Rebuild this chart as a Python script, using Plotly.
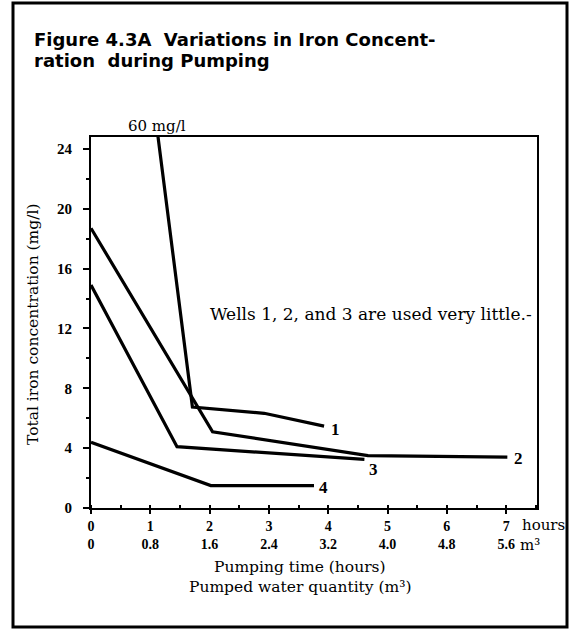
import plotly.graph_objects as go

# ---- data ----
hour_ticks = [0, 1, 2, 3, 4, 5, 6, 7]
volume_labels = ["0", "0.8", "1.6", "2.4", "3.2", "4.0", "4.8", "5.6"]
y_ticks = [0, 4, 8, 12, 16, 20, 24]
y_minor = [2, 6, 10, 14, 18, 22]

well1_t = [0, 1.71, 2.92, 3.93]
well1_c = [60, 6.75, 6.33, 5.47]
well2_t = [0, 2.05, 4.67, 7.02]
well2_c = [18.7, 5.1, 3.5, 3.4]
well3_t = [0, 1.45, 4.61]
well3_c = [14.9, 4.1, 3.25]
well4_t = [0, 2.02, 3.76]
well4_c = [4.4, 1.5, 1.5]

wells = [
    ("1", well1_t, well1_c, 5, -3),
    ("2", well2_t, well2_c, 5, -1),
    ("3", well3_t, well3_c, 3, -10),
    ("4", well4_t, well4_c, 3, -2),
]

SERIF = "DejaVu Serif"
TICKSERIF = "Liberation Serif"
SANS = "DejaVu Sans"

fig = go.Figure()
for name, t, c, dx, dy in wells:
    fig.add_trace(go.Scatter(x=t, y=c, mode="lines", name="Well " + name,
                             line=dict(color="black", width=3.2),
                             showlegend=False, hoverinfo="skip"))

annotations = []
for name, t, c, dx, dy in wells:
    annotations.append(dict(x=t[-1], y=c[-1], xref="x", yref="y", text=name,
                            showarrow=False, xanchor="left", yanchor="middle",
                            xshift=dx, yshift=dy,
                            font=dict(family=TICKSERIF, size=17, color="black",
                                      weight="bold")))

L, R, T, B = 91, 33, 137, 122
W, H = 570, 630
pw, ph = W - L - R, H - T - B


def px(x):
    return (x - L) / pw


def py(y):
    return (T + ph - y) / ph


def note(x, y, text, font, size, xanchor="center", bold=False, **kw):
    return dict(x=px(x), y=py(y), xref="paper", yref="paper", xanchor=xanchor,
                yanchor="middle", text=text, showarrow=False,
                font=dict(family=font, size=size, color="black",
                          weight="bold" if bold else "normal"), **kw)


annotations += [
    note(32, 39, "Figure 4.3A  Variations in Iron Concent-", SANS, 18, "left", bold=True),
    note(32, 60, "ration  during Pumping", SANS, 18, "left", bold=True),
    note(33, 325, "Total iron concentration (mg/l)", SERIF, 15.5, textangle=-90),
    note(300, 567, "Pumping time (hours)", SERIF, 15.5),
    note(300, 587, "Pumped water quantity (m³)", SERIF, 15.5),
    note(520, 525, "hours", SERIF, 15, "left"),
    note(518, 545, "m³", SERIF, 15, "left"),
    note(157, 126, "60 mg/l", SERIF, 15),
    dict(x=4.72, y=13.0, xref="x", yref="y", xanchor="center", yanchor="middle",
         text="Wells 1, 2, and 3 are used very little.-", showarrow=False,
         font=dict(family=SERIF, size=17, color="black")),
]

shapes = [
    dict(type="rect", xref="paper", yref="paper",
         x0=px(13), x1=px(567), y0=py(627), y1=py(3),
         line=dict(color="black", width=3)),
]

fig.update_layout(
    width=W, height=H,
    margin=dict(l=L, r=R, t=T, b=B),
    paper_bgcolor="white", plot_bgcolor="white",
    annotations=annotations, shapes=shapes,
    xaxis=dict(range=[0, 7.52], tickmode="array", tickvals=hour_ticks,
               ticktext=[f"{h}<br>{v}" for h, v in zip(hour_ticks, volume_labels)],
               showgrid=False, zeroline=False, showline=True, linecolor="black",
               linewidth=2, mirror=True, ticks="outside", ticklen=4, tickwidth=2,
               tickcolor="black",
               minor=dict(ticks="inside", ticklen=3, dtick=0.5, tickcolor="black"),
               tickfont=dict(family=TICKSERIF, size=14, color="black", weight="bold")),
    yaxis=dict(range=[0, 24.8], tickmode="array", tickvals=y_ticks,
               showgrid=False, zeroline=False, showline=True, linecolor="black",
               linewidth=2, mirror=True, ticks="outside", ticklen=6, tickwidth=2,
               tickcolor="black", ticklabelstandoff=8,
               minor=dict(ticks="outside", ticklen=3, tickvals=y_minor,
                          tickcolor="black"),
               tickfont=dict(family=TICKSERIF, size=15, color="black", weight="bold")),
)

fig.write_html("out.html", config={"displayModeBar": False},
               post_script="document.body.style.margin='0';")
